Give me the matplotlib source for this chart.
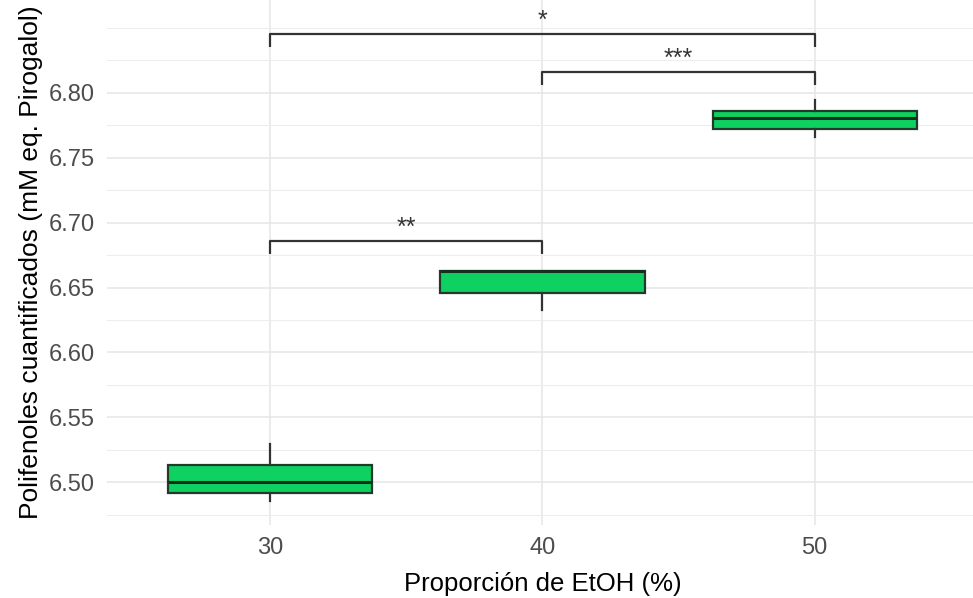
import matplotlib
matplotlib.use("Agg")
import matplotlib.pyplot as plt
from matplotlib.ticker import FixedLocator, FormatStrFormatter

plt.rcParams['font.family'] = ['Liberation Sans', 'DejaVu Sans']

# datos
etoh = ['30', '40', '50']
q1 = [6.4917, 6.6460, 6.7722]
mediana = [6.5002, 6.6629, 6.7809]
q3 = [6.5136, 6.6629, 6.7863]
bigote_inf = [6.4854, 6.6326, 6.7658]
bigote_sup = [6.5293, 6.6629, 6.7945]

# comparaciones (grupo a, grupo b, etiqueta, altura del corchete)
comp_a = [1, 2, 1]
comp_b = [3, 3, 2]
comp_lab = ['*', '***', '**']
comp_y = [6.8454, 6.8161, 6.6858]

y_ticks = [6.50, 6.55, 6.60, 6.65, 6.70, 6.75, 6.80]
y_minor = [6.475, 6.525, 6.575, 6.625, 6.675, 6.725, 6.775, 6.825, 6.85]

fig = plt.figure(figsize=(9.73, 5.98), dpi=100)
ax = fig.add_axes([107 / 973, (598 - 525) / 598, 871 / 973, 525 / 598])

stats = []
for i in range(len(etoh)):
    stats.append(dict(med=mediana[i], q1=q1[i], q3=q3[i],
                      whislo=bigote_inf[i], whishi=bigote_sup[i], fliers=[]))

ax.bxp(stats, positions=[1, 2, 3], widths=0.75, showcaps=False, patch_artist=True,
       boxprops=dict(facecolor='#0fd162', edgecolor='#233a2b', linewidth=1.6),
       medianprops=dict(color='#14301f', linewidth=2.2),
       whiskerprops=dict(color='#333333', linewidth=1.6), zorder=3)

# corchetes de significancia
for a, b, lab, y in zip(comp_a, comp_b, comp_lab, comp_y):
    ax.plot([a, a, b, b], [y - 0.0100, y, y, y - 0.0100], color='#333333',
            linewidth=1.6, zorder=4, solid_capstyle='butt')
    ax.text((a + b) / 2, y + 0.005, lab, ha='center', va='baseline',
            fontsize=18, color='#333333')

ax.set_xlim(0.4, 3.6)
ax.set_ylim(6.467, 6.8716)
ax.set_xticks([1, 2, 3])
ax.set_xticklabels(etoh)
ax.yaxis.set_major_locator(FixedLocator(y_ticks))
ax.yaxis.set_minor_locator(FixedLocator(y_minor))
ax.yaxis.set_major_formatter(FormatStrFormatter('%.2f'))

ax.grid(which='major', color='#e6e6e6', linewidth=1.1, zorder=0)
ax.grid(which='minor', axis='y', color='#ededed', linewidth=0.8, zorder=0)
ax.set_axisbelow(True)
for s in ax.spines.values():
    s.set_visible(False)
ax.tick_params(which='both', length=0, labelsize=17, labelcolor='#4d4d4d')
ax.tick_params(axis='x', pad=9)
ax.tick_params(axis='y', pad=9)

ax.set_xlabel('Proporción de EtOH (%)', fontsize=18.5, labelpad=9)
ax.set_ylabel('Polifenoles cuantificados (mM eq. Pirogalol)', fontsize=19, labelpad=4)

fig.savefig('out.png', dpi=100)
